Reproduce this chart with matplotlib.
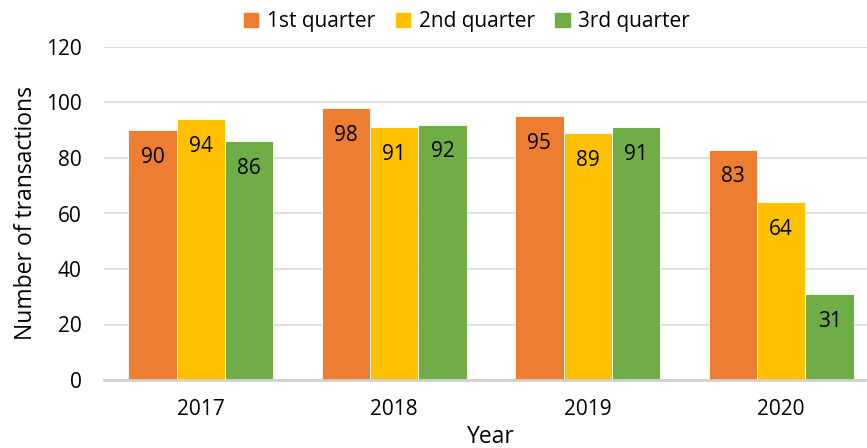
import matplotlib.pyplot as plt
import numpy as np
from matplotlib.patches import Patch

plt.rcParams['font.family'] = ['Open Sans', 'DejaVu Sans']

years = ['2017', '2018', '2019', '2020']
series_names = ['1st quarter', '2nd quarter', '3rd quarter']
q1 = [90, 98, 95, 83]
q2 = [94, 91, 89, 64]
q3 = [86, 92, 91, 31]
colors = ['#ED7D31', '#FFC000', '#70AD47']

fig = plt.figure(figsize=(8.67, 4.48), dpi=100)
ax = fig.add_axes([104 / 867, 1 - 380 / 448, 774 / 867, 333 / 448])

x = np.arange(len(years))
width = 0.25
for i, (vals, col) in enumerate(zip([q1, q2, q3], colors)):
    bars = ax.bar(x + (i - 1) * width, vals, width, color=col,
                  edgecolor='white', linewidth=0.6, zorder=2)
    for b, v in zip(bars, vals):
        ax.annotate(str(v), (b.get_x() + b.get_width() / 2, v),
                    xytext=(0, -19.5), textcoords='offset points',
                    ha='center', va='center', fontsize=15, color='black')

ax.set_xlim(-0.5, 3.5)
ax.set_ylim(0, 120)
ax.set_yticks(range(0, 121, 20))
ax.set_xticks(x)
ax.set_xticklabels(years)
ax.tick_params(axis='both', length=0, labelsize=15, colors='black')
ax.tick_params(axis='y', pad=16)
ax.tick_params(axis='x', pad=14)
ax.grid(axis='y', color='#D9D9D9', linewidth=1.2, zorder=0)
for s in ['left', 'right', 'top']:
    ax.spines[s].set_visible(False)
ax.spines['bottom'].set_color('#D0D0D0')
ax.spines['bottom'].set_linewidth(2)
ax.spines['bottom'].set_zorder(3)

ax.set_ylabel('Number of transactions', fontsize=16.5, labelpad=6)
ax.set_xlabel('Year', fontsize=16.5, labelpad=3)

handles = [Patch(color=c) for c in colors]
fig.legend(handles, series_names, loc='center', bbox_to_anchor=(467 / 867, 1 - 22 / 448),
           ncol=3, frameon=False, fontsize=15, handlelength=0.7, handleheight=0.7,
           handletextpad=0.4, columnspacing=1.0)

fig.savefig('out.png', dpi=100)
